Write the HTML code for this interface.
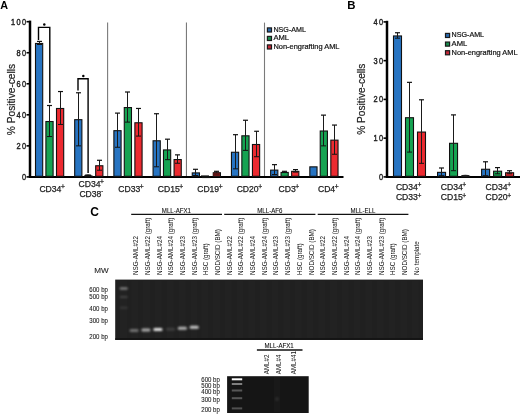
<!DOCTYPE html>
<html><head><meta charset="utf-8"><style>
html,body{margin:0;padding:0;background:#fff;}
body{width:520px;height:414px;overflow:hidden;font-family:"Liberation Sans", sans-serif;}
svg{display:block;will-change:transform;font-family:"Liberation Sans", sans-serif;}
</style></head><body>
<svg width="520" height="414" viewBox="0 0 520 414">
<text transform="translate(0.20,8.70)" font-size="10.8" font-weight="bold" fill="#000">A</text>
<text transform="translate(347.20,8.80)" font-size="11.4" font-weight="bold" fill="#000">B</text>
<text transform="translate(90.30,215.70)" font-size="12.0" font-weight="bold" fill="#000">C</text>
<line x1="107.6" y1="22.6" x2="107.6" y2="176" stroke="#7a7a7a" stroke-width="1.1"/>
<line x1="186.45" y1="22.6" x2="186.45" y2="176" stroke="#7a7a7a" stroke-width="1.1"/>
<line x1="264.5" y1="22.6" x2="264.5" y2="176" stroke="#7a7a7a" stroke-width="1.1"/>
<line x1="30" y1="20.6" x2="30" y2="178" stroke="#000" stroke-width="2.5"/>
<line x1="29" y1="177" x2="343.5" y2="177" stroke="#000" stroke-width="2"/>
<line x1="26.5" y1="176.90" x2="30" y2="176.90" stroke="#000" stroke-width="1.6"/>
<text transform="translate(27.29,179.80) scale(0.86,1)" text-anchor="end" font-size="8.6" letter-spacing="1.5" fill="#222" stroke="#222" stroke-width="0.4">0</text>
<line x1="26.5" y1="145.86" x2="30" y2="145.86" stroke="#000" stroke-width="1.6"/>
<text transform="translate(27.29,148.76) scale(0.86,1)" text-anchor="end" font-size="8.6" letter-spacing="1.5" fill="#222" stroke="#222" stroke-width="0.4">20</text>
<line x1="26.5" y1="114.82" x2="30" y2="114.82" stroke="#000" stroke-width="1.6"/>
<text transform="translate(27.29,117.72) scale(0.86,1)" text-anchor="end" font-size="8.6" letter-spacing="1.5" fill="#222" stroke="#222" stroke-width="0.4">40</text>
<line x1="26.5" y1="83.78" x2="30" y2="83.78" stroke="#000" stroke-width="1.6"/>
<text transform="translate(27.29,86.68) scale(0.86,1)" text-anchor="end" font-size="8.6" letter-spacing="1.5" fill="#222" stroke="#222" stroke-width="0.4">60</text>
<line x1="26.5" y1="52.74" x2="30" y2="52.74" stroke="#000" stroke-width="1.6"/>
<text transform="translate(27.29,55.64) scale(0.86,1)" text-anchor="end" font-size="8.6" letter-spacing="1.5" fill="#222" stroke="#222" stroke-width="0.4">80</text>
<line x1="26.5" y1="21.70" x2="30" y2="21.70" stroke="#000" stroke-width="1.6"/>
<text transform="translate(27.29,24.60) scale(0.86,1)" text-anchor="end" font-size="8.6" letter-spacing="1.5" fill="#222" stroke="#222" stroke-width="0.4">100</text>
<text transform="translate(14.60,99.50) rotate(-90)" text-anchor="middle" font-size="10.2" fill="#222" stroke="#222" stroke-width="0.2">% Positive-cells</text>
<rect x="35.50" y="43.46" width="7.20" height="132.84" fill="#2774c2" stroke="#111" stroke-width="1.1"/><line x1="39.50" y1="41.41" x2="39.50" y2="44.51" stroke="#1a1a1a" stroke-width="1"/><line x1="37.00" y1="41.41" x2="42.00" y2="41.41" stroke="#111" stroke-width="1.2"/><line x1="37.00" y1="44.51" x2="42.00" y2="44.51" stroke="#111" stroke-width="1"/>
<rect x="45.90" y="121.53" width="7.20" height="54.77" fill="#16a352" stroke="#111" stroke-width="1.1"/><line x1="49.50" y1="105.51" x2="49.50" y2="136.55" stroke="#1a1a1a" stroke-width="1"/><line x1="47.00" y1="105.51" x2="52.00" y2="105.51" stroke="#111" stroke-width="1.2"/><line x1="47.00" y1="136.55" x2="52.00" y2="136.55" stroke="#111" stroke-width="1"/>
<rect x="56.50" y="108.49" width="7.20" height="67.81" fill="#ec2a30" stroke="#111" stroke-width="1.1"/><line x1="60.50" y1="91.54" x2="60.50" y2="124.44" stroke="#1a1a1a" stroke-width="1"/><line x1="58.00" y1="91.54" x2="63.00" y2="91.54" stroke="#111" stroke-width="1.2"/><line x1="58.00" y1="124.44" x2="63.00" y2="124.44" stroke="#111" stroke-width="1"/>
<rect x="74.69" y="119.67" width="7.20" height="56.63" fill="#2774c2" stroke="#111" stroke-width="1.1"/><line x1="78.50" y1="92.78" x2="78.50" y2="145.86" stroke="#1a1a1a" stroke-width="1"/><line x1="76.00" y1="92.78" x2="81.00" y2="92.78" stroke="#111" stroke-width="1.2"/><line x1="76.00" y1="145.86" x2="81.00" y2="145.86" stroke="#111" stroke-width="1"/>
<rect x="85.09" y="176.16" width="7.20" height="0.60" fill="#16a352" stroke="#111" stroke-width="1.1"/>
<rect x="95.69" y="165.76" width="7.20" height="10.54" fill="#ec2a30" stroke="#111" stroke-width="1.1"/><line x1="99.50" y1="160.29" x2="99.50" y2="170.23" stroke="#1a1a1a" stroke-width="1"/><line x1="97.00" y1="160.29" x2="102.00" y2="160.29" stroke="#111" stroke-width="1.2"/><line x1="97.00" y1="170.23" x2="102.00" y2="170.23" stroke="#111" stroke-width="1"/>
<rect x="113.88" y="130.68" width="7.20" height="45.62" fill="#2774c2" stroke="#111" stroke-width="1.1"/><line x1="117.50" y1="113.11" x2="117.50" y2="147.26" stroke="#1a1a1a" stroke-width="1"/><line x1="115.00" y1="113.11" x2="120.00" y2="113.11" stroke="#111" stroke-width="1.2"/><line x1="115.00" y1="147.26" x2="120.00" y2="147.26" stroke="#111" stroke-width="1"/>
<rect x="124.28" y="107.56" width="7.20" height="68.74" fill="#16a352" stroke="#111" stroke-width="1.1"/><line x1="127.50" y1="92.01" x2="127.50" y2="122.11" stroke="#1a1a1a" stroke-width="1"/><line x1="125.00" y1="92.01" x2="130.00" y2="92.01" stroke="#111" stroke-width="1.2"/><line x1="125.00" y1="122.11" x2="130.00" y2="122.11" stroke="#111" stroke-width="1"/>
<rect x="134.88" y="122.77" width="7.20" height="53.53" fill="#ec2a30" stroke="#111" stroke-width="1.1"/><line x1="138.50" y1="108.46" x2="138.50" y2="136.08" stroke="#1a1a1a" stroke-width="1"/><line x1="136.00" y1="108.46" x2="141.00" y2="108.46" stroke="#111" stroke-width="1.2"/><line x1="136.00" y1="136.08" x2="141.00" y2="136.08" stroke="#111" stroke-width="1"/>
<rect x="153.07" y="140.77" width="7.20" height="35.53" fill="#2774c2" stroke="#111" stroke-width="1.1"/><line x1="156.50" y1="113.73" x2="156.50" y2="166.81" stroke="#1a1a1a" stroke-width="1"/><line x1="154.00" y1="113.73" x2="159.00" y2="113.73" stroke="#111" stroke-width="1.2"/><line x1="154.00" y1="166.81" x2="159.00" y2="166.81" stroke="#111" stroke-width="1"/>
<rect x="163.47" y="149.93" width="7.20" height="26.37" fill="#16a352" stroke="#111" stroke-width="1.1"/><line x1="167.50" y1="139.19" x2="167.50" y2="159.67" stroke="#1a1a1a" stroke-width="1"/><line x1="165.00" y1="139.19" x2="170.00" y2="139.19" stroke="#111" stroke-width="1.2"/><line x1="165.00" y1="159.67" x2="170.00" y2="159.67" stroke="#111" stroke-width="1"/>
<rect x="174.07" y="159.55" width="7.20" height="16.75" fill="#ec2a30" stroke="#111" stroke-width="1.1"/><line x1="177.50" y1="154.86" x2="177.50" y2="163.24" stroke="#1a1a1a" stroke-width="1"/><line x1="175.00" y1="154.86" x2="180.00" y2="154.86" stroke="#111" stroke-width="1.2"/><line x1="175.00" y1="163.24" x2="180.00" y2="163.24" stroke="#111" stroke-width="1"/>
<rect x="192.26" y="172.90" width="7.20" height="3.40" fill="#2774c2" stroke="#111" stroke-width="1.1"/><line x1="195.50" y1="169.30" x2="195.50" y2="175.50" stroke="#1a1a1a" stroke-width="1"/><line x1="193.00" y1="169.30" x2="198.00" y2="169.30" stroke="#111" stroke-width="1.2"/><line x1="193.00" y1="175.50" x2="198.00" y2="175.50" stroke="#111" stroke-width="1"/>
<rect x="202.66" y="176.93" width="7.20" height="0.60" fill="#16a352" stroke="#111" stroke-width="1.1"/>
<rect x="213.26" y="172.74" width="7.20" height="3.56" fill="#ec2a30" stroke="#111" stroke-width="1.1"/><line x1="216.50" y1="171.31" x2="216.50" y2="173.18" stroke="#1a1a1a" stroke-width="1"/><line x1="214.00" y1="171.31" x2="219.00" y2="171.31" stroke="#111" stroke-width="1.2"/><line x1="214.00" y1="173.18" x2="219.00" y2="173.18" stroke="#111" stroke-width="1"/>
<rect x="231.45" y="152.26" width="7.20" height="24.04" fill="#2774c2" stroke="#111" stroke-width="1.1"/><line x1="235.50" y1="134.69" x2="235.50" y2="168.83" stroke="#1a1a1a" stroke-width="1"/><line x1="233.00" y1="134.69" x2="238.00" y2="134.69" stroke="#111" stroke-width="1.2"/><line x1="233.00" y1="168.83" x2="238.00" y2="168.83" stroke="#111" stroke-width="1"/>
<rect x="241.85" y="135.81" width="7.20" height="40.49" fill="#16a352" stroke="#111" stroke-width="1.1"/><line x1="245.50" y1="120.25" x2="245.50" y2="150.36" stroke="#1a1a1a" stroke-width="1"/><line x1="243.00" y1="120.25" x2="248.00" y2="120.25" stroke="#111" stroke-width="1.2"/><line x1="243.00" y1="150.36" x2="248.00" y2="150.36" stroke="#111" stroke-width="1"/>
<rect x="252.45" y="144.50" width="7.20" height="31.80" fill="#ec2a30" stroke="#111" stroke-width="1.1"/><line x1="256.50" y1="131.27" x2="256.50" y2="156.72" stroke="#1a1a1a" stroke-width="1"/><line x1="254.00" y1="131.27" x2="259.00" y2="131.27" stroke="#111" stroke-width="1.2"/><line x1="254.00" y1="156.72" x2="259.00" y2="156.72" stroke="#111" stroke-width="1"/>
<rect x="270.64" y="170.11" width="7.20" height="6.19" fill="#2774c2" stroke="#111" stroke-width="1.1"/><line x1="274.50" y1="164.64" x2="274.50" y2="174.57" stroke="#1a1a1a" stroke-width="1"/><line x1="272.00" y1="164.64" x2="277.00" y2="164.64" stroke="#111" stroke-width="1.2"/><line x1="272.00" y1="174.57" x2="277.00" y2="174.57" stroke="#111" stroke-width="1"/>
<rect x="281.04" y="172.43" width="7.20" height="3.87" fill="#16a352" stroke="#111" stroke-width="1.1"/><line x1="284.50" y1="171.31" x2="284.50" y2="172.55" stroke="#1a1a1a" stroke-width="1"/><line x1="282.00" y1="171.31" x2="287.00" y2="171.31" stroke="#111" stroke-width="1.2"/><line x1="282.00" y1="172.55" x2="287.00" y2="172.55" stroke="#111" stroke-width="1"/>
<rect x="291.64" y="171.35" width="7.20" height="4.95" fill="#ec2a30" stroke="#111" stroke-width="1.1"/><line x1="295.50" y1="169.61" x2="295.50" y2="172.09" stroke="#1a1a1a" stroke-width="1"/><line x1="293.00" y1="169.61" x2="298.00" y2="169.61" stroke="#111" stroke-width="1.2"/><line x1="293.00" y1="172.09" x2="298.00" y2="172.09" stroke="#111" stroke-width="1"/>
<rect x="309.83" y="166.85" width="7.20" height="9.45" fill="#2774c2" stroke="#111" stroke-width="1.1"/>
<rect x="320.23" y="131.00" width="7.20" height="45.30" fill="#16a352" stroke="#111" stroke-width="1.1"/><line x1="323.50" y1="115.13" x2="323.50" y2="145.86" stroke="#1a1a1a" stroke-width="1"/><line x1="321.00" y1="115.13" x2="326.00" y2="115.13" stroke="#111" stroke-width="1.2"/><line x1="321.00" y1="145.86" x2="326.00" y2="145.86" stroke="#111" stroke-width="1"/>
<rect x="330.83" y="140.15" width="7.20" height="36.15" fill="#ec2a30" stroke="#111" stroke-width="1.1"/><line x1="334.50" y1="125.06" x2="334.50" y2="154.24" stroke="#1a1a1a" stroke-width="1"/><line x1="332.00" y1="125.06" x2="337.00" y2="125.06" stroke="#111" stroke-width="1.2"/><line x1="332.00" y1="154.24" x2="337.00" y2="154.24" stroke="#111" stroke-width="1"/>
<ellipse cx="88" cy="175.6" rx="3.6" ry="1.3" fill="#111"/>
<rect x="213.2" y="172.8" width="6.6" height="3" fill="#5a1515"/>
<line x1="201" y1="175.6" x2="209" y2="175.6" stroke="#333" stroke-width="0.8"/>
<path d="M38.5,40 V27.4 H49.8 V103" fill="none" stroke="#000" stroke-width="1.4"/>
<circle cx="44.3" cy="24.4" r="1.25" fill="#000"/>
<path d="M78.0,90.5 V78.8 H88.1 V173" fill="none" stroke="#000" stroke-width="1.4"/>
<circle cx="83.3" cy="76.1" r="1.25" fill="#000"/>
<rect x="267.40" y="27.90" width="4.1" height="4.1" fill="#2a68aa" stroke="#1a1a1a" stroke-width="1.2"/><text transform="translate(273.45,31.90) scale(0.965,1)" font-size="7.4" fill="#111" stroke="#111" stroke-width="0.2">NSG-AML</text><rect x="267.40" y="36.40" width="4.1" height="4.1" fill="#1a8a4c" stroke="#1a1a1a" stroke-width="1.2"/><text transform="translate(273.45,40.40) scale(1.03,1)" font-size="7.4" fill="#111" stroke="#111" stroke-width="0.2">AML</text><rect x="267.40" y="44.90" width="4.1" height="4.1" fill="#c42838" stroke="#1a1a1a" stroke-width="1.2"/><text transform="translate(273.45,48.90) scale(1.005,1)" font-size="7.4" fill="#111" stroke="#111" stroke-width="0.2">Non-engrafting AML</text>
<rect x="445.50" y="33.40" width="4.1" height="4.1" fill="#2a68aa" stroke="#1a1a1a" stroke-width="1.2"/><text transform="translate(451.55,37.40) scale(0.965,1)" font-size="7.4" fill="#111" stroke="#111" stroke-width="0.2">NSG-AML</text><rect x="445.50" y="42.05" width="4.1" height="4.1" fill="#1a8a4c" stroke="#1a1a1a" stroke-width="1.2"/><text transform="translate(451.55,46.05) scale(1.03,1)" font-size="7.4" fill="#111" stroke="#111" stroke-width="0.2">AML</text><rect x="445.50" y="50.70" width="4.1" height="4.1" fill="#c42838" stroke="#1a1a1a" stroke-width="1.2"/><text transform="translate(451.55,54.70) scale(1.005,1)" font-size="7.4" fill="#111" stroke="#111" stroke-width="0.2">Non-engrafting AML</text>
<text transform="translate(52.10,191.90)" text-anchor="middle" font-size="8.6" fill="#222" stroke="#222" stroke-width="0.25">CD34<tspan font-size="6.6" dx="-0.4" dy="-2.6">+</tspan></text>
<text transform="translate(131.00,191.90)" text-anchor="middle" font-size="8.6" fill="#222" stroke="#222" stroke-width="0.25">CD33<tspan font-size="6.6" dx="-0.4" dy="-2.6">+</tspan></text>
<text transform="translate(170.45,191.90)" text-anchor="middle" font-size="8.6" fill="#222" stroke="#222" stroke-width="0.25">CD15<tspan font-size="6.6" dx="-0.4" dy="-2.6">+</tspan></text>
<text transform="translate(209.90,191.90)" text-anchor="middle" font-size="8.6" fill="#222" stroke="#222" stroke-width="0.25">CD19<tspan font-size="6.6" dx="-0.4" dy="-2.6">+</tspan></text>
<text transform="translate(249.35,191.90)" text-anchor="middle" font-size="8.6" fill="#222" stroke="#222" stroke-width="0.25">CD20<tspan font-size="6.6" dx="-0.4" dy="-2.6">+</tspan></text>
<text transform="translate(288.80,191.90)" text-anchor="middle" font-size="8.6" fill="#222" stroke="#222" stroke-width="0.25">CD3<tspan font-size="6.6" dx="-0.4" dy="-2.6">+</tspan></text>
<text transform="translate(328.25,191.90)" text-anchor="middle" font-size="8.6" fill="#222" stroke="#222" stroke-width="0.25">CD4<tspan font-size="6.6" dx="-0.4" dy="-2.6">+</tspan></text>
<text transform="translate(91.19,186.60)" text-anchor="middle" font-size="8.6" fill="#222" stroke="#222" stroke-width="0.25">CD34<tspan font-size="6.6" dx="-0.4" dy="-2.6">+</tspan></text>
<text transform="translate(91.19,197.40)" text-anchor="middle" font-size="8.6" fill="#222" stroke="#222" stroke-width="0.25">CD38<tspan font-size="5.5" dx="-0.2" dy="-4.2">-</tspan></text>
<line x1="387" y1="20.8" x2="387" y2="178" stroke="#000" stroke-width="2.5"/>
<line x1="386" y1="177" x2="520" y2="177" stroke="#000" stroke-width="2"/>
<line x1="383.5" y1="176.90" x2="387" y2="176.90" stroke="#000" stroke-width="1.6"/>
<text transform="translate(384.29,179.80) scale(0.86,1)" text-anchor="end" font-size="8.6" letter-spacing="1.5" fill="#222" stroke="#222" stroke-width="0.4">0</text>
<line x1="383.5" y1="138.15" x2="387" y2="138.15" stroke="#000" stroke-width="1.6"/>
<text transform="translate(384.29,141.05) scale(0.86,1)" text-anchor="end" font-size="8.6" letter-spacing="1.5" fill="#222" stroke="#222" stroke-width="0.4">10</text>
<line x1="383.5" y1="99.40" x2="387" y2="99.40" stroke="#000" stroke-width="1.6"/>
<text transform="translate(384.29,102.30) scale(0.86,1)" text-anchor="end" font-size="8.6" letter-spacing="1.5" fill="#222" stroke="#222" stroke-width="0.4">20</text>
<line x1="383.5" y1="60.65" x2="387" y2="60.65" stroke="#000" stroke-width="1.6"/>
<text transform="translate(384.29,63.55) scale(0.86,1)" text-anchor="end" font-size="8.6" letter-spacing="1.5" fill="#222" stroke="#222" stroke-width="0.4">30</text>
<line x1="383.5" y1="21.90" x2="387" y2="21.90" stroke="#000" stroke-width="1.6"/>
<text transform="translate(384.29,24.80) scale(0.86,1)" text-anchor="end" font-size="8.6" letter-spacing="1.5" fill="#222" stroke="#222" stroke-width="0.4">40</text>
<text transform="translate(365.00,99.20) rotate(-90)" text-anchor="middle" font-size="10.2" fill="#222" stroke="#222" stroke-width="0.2">% Positive-cells</text>
<rect x="393.50" y="35.96" width="8.00" height="140.34" fill="#2774c2" stroke="#111" stroke-width="1.1"/><line x1="397.50" y1="32.75" x2="397.50" y2="38.18" stroke="#1a1a1a" stroke-width="1"/><line x1="395.00" y1="32.75" x2="400.00" y2="32.75" stroke="#111" stroke-width="1.2"/><line x1="395.00" y1="38.18" x2="400.00" y2="38.18" stroke="#111" stroke-width="1"/>
<rect x="405.50" y="117.72" width="8.00" height="58.58" fill="#16a352" stroke="#111" stroke-width="1.1"/><line x1="409.50" y1="82.35" x2="409.50" y2="152.10" stroke="#1a1a1a" stroke-width="1"/><line x1="407.00" y1="82.35" x2="412.00" y2="82.35" stroke="#111" stroke-width="1.2"/><line x1="407.00" y1="152.10" x2="412.00" y2="152.10" stroke="#111" stroke-width="1"/>
<rect x="417.50" y="132.06" width="8.00" height="44.24" fill="#ec2a30" stroke="#111" stroke-width="1.1"/><line x1="421.50" y1="99.79" x2="421.50" y2="163.34" stroke="#1a1a1a" stroke-width="1"/><line x1="419.00" y1="99.79" x2="424.00" y2="99.79" stroke="#111" stroke-width="1.2"/><line x1="419.00" y1="163.34" x2="424.00" y2="163.34" stroke="#111" stroke-width="1"/>
<rect x="437.55" y="172.36" width="8.00" height="3.94" fill="#2774c2" stroke="#111" stroke-width="1.1"/><line x1="441.50" y1="167.99" x2="441.50" y2="175.74" stroke="#1a1a1a" stroke-width="1"/><line x1="439.00" y1="167.99" x2="444.00" y2="167.99" stroke="#111" stroke-width="1.2"/><line x1="439.00" y1="175.74" x2="444.00" y2="175.74" stroke="#111" stroke-width="1"/>
<rect x="449.55" y="143.30" width="8.00" height="33.00" fill="#16a352" stroke="#111" stroke-width="1.1"/><line x1="453.50" y1="114.90" x2="453.50" y2="170.70" stroke="#1a1a1a" stroke-width="1"/><line x1="451.00" y1="114.90" x2="456.00" y2="114.90" stroke="#111" stroke-width="1.2"/><line x1="451.00" y1="170.70" x2="456.00" y2="170.70" stroke="#111" stroke-width="1"/>
<rect x="461.55" y="176.24" width="8.00" height="0.60" fill="#ec2a30" stroke="#111" stroke-width="1.1"/>
<rect x="481.60" y="169.26" width="8.00" height="7.04" fill="#2774c2" stroke="#111" stroke-width="1.1"/><line x1="485.50" y1="161.79" x2="485.50" y2="175.74" stroke="#1a1a1a" stroke-width="1"/><line x1="483.00" y1="161.79" x2="488.00" y2="161.79" stroke="#111" stroke-width="1.2"/><line x1="483.00" y1="175.74" x2="488.00" y2="175.74" stroke="#111" stroke-width="1"/>
<rect x="493.60" y="171.20" width="8.00" height="5.10" fill="#16a352" stroke="#111" stroke-width="1.1"/><line x1="497.50" y1="167.60" x2="497.50" y2="173.80" stroke="#1a1a1a" stroke-width="1"/><line x1="495.00" y1="167.60" x2="500.00" y2="167.60" stroke="#111" stroke-width="1.2"/><line x1="495.00" y1="173.80" x2="500.00" y2="173.80" stroke="#111" stroke-width="1"/>
<rect x="505.60" y="172.75" width="8.00" height="3.55" fill="#ec2a30" stroke="#111" stroke-width="1.1"/><line x1="509.50" y1="170.70" x2="509.50" y2="173.80" stroke="#1a1a1a" stroke-width="1"/><line x1="507.00" y1="170.70" x2="512.00" y2="170.70" stroke="#111" stroke-width="1.2"/><line x1="507.00" y1="173.80" x2="512.00" y2="173.80" stroke="#111" stroke-width="1"/>
<ellipse cx="465.3" cy="175.8" rx="4" ry="1" fill="#222"/>
<text transform="translate(408.60,189.80)" text-anchor="middle" font-size="8.6" fill="#222" stroke="#222" stroke-width="0.25">CD34<tspan font-size="6.6" dx="-0.4" dy="-2.6">+</tspan></text>
<text transform="translate(408.60,200.20)" text-anchor="middle" font-size="8.6" fill="#222" stroke="#222" stroke-width="0.25">CD33<tspan font-size="6.6" dx="-0.4" dy="-2.6">+</tspan></text>
<text transform="translate(453.45,189.80)" text-anchor="middle" font-size="8.6" fill="#222" stroke="#222" stroke-width="0.25">CD34<tspan font-size="6.6" dx="-0.4" dy="-2.6">+</tspan></text>
<text transform="translate(453.45,200.20)" text-anchor="middle" font-size="8.6" fill="#222" stroke="#222" stroke-width="0.25">CD15<tspan font-size="6.6" dx="-0.4" dy="-2.6">+</tspan></text>
<text transform="translate(498.30,189.80)" text-anchor="middle" font-size="8.6" fill="#222" stroke="#222" stroke-width="0.25">CD34<tspan font-size="6.6" dx="-0.4" dy="-2.6">+</tspan></text>
<text transform="translate(498.30,200.20)" text-anchor="middle" font-size="8.6" fill="#222" stroke="#222" stroke-width="0.25">CD20<tspan font-size="6.6" dx="-0.4" dy="-2.6">+</tspan></text>
<defs><filter id="bl" x="-50%" y="-100%" width="200%" height="300%"><feGaussianBlur stdDeviation="1.1"/></filter><filter id="bl2" x="-50%" y="-100%" width="200%" height="300%"><feGaussianBlur stdDeviation="0.7"/></filter><filter id="bl3" x="-50%" y="-100%" width="200%" height="300%"><feGaussianBlur stdDeviation="0.9"/></filter></defs>
<line x1="131.2" y1="214.45" x2="222.0" y2="214.45" stroke="#111" stroke-width="1.2"/>
<text transform="translate(176.40,213.10) scale(0.9,1)" text-anchor="middle" font-size="6.8" fill="#111" stroke="#111" stroke-width="0.1">MLL-AFX1</text>
<line x1="224.2" y1="214.45" x2="315.4" y2="214.45" stroke="#111" stroke-width="1.2"/>
<text transform="translate(269.80,213.10) scale(0.9,1)" text-anchor="middle" font-size="6.8" fill="#111" stroke="#111" stroke-width="0.1">MLL-AF6</text>
<line x1="317.7" y1="214.45" x2="408.4" y2="214.45" stroke="#111" stroke-width="1.2"/>
<text transform="translate(363.00,213.10) scale(0.9,1)" text-anchor="middle" font-size="6.8" fill="#111" stroke="#111" stroke-width="0.1">MLL-ELL</text>
<text transform="translate(138.30,275.00) rotate(-90) scale(0.965,1)" font-size="6.5" fill="#111">NSG-AML#22</text>
<text transform="translate(149.98,275.00) rotate(-90) scale(0.965,1)" font-size="6.5" fill="#111">NSG-AML#22 (graft)</text>
<text transform="translate(161.66,275.00) rotate(-90) scale(0.965,1)" font-size="6.5" fill="#111">NSG-AML#24</text>
<text transform="translate(173.34,275.00) rotate(-90) scale(0.965,1)" font-size="6.5" fill="#111">NSG-AML#24 (graft)</text>
<text transform="translate(185.02,275.00) rotate(-90) scale(0.965,1)" font-size="6.5" fill="#111">NSG-AML#23</text>
<text transform="translate(196.70,275.00) rotate(-90) scale(0.965,1)" font-size="6.5" fill="#111">NSG-AML#23 (graft)</text>
<text transform="translate(208.38,275.00) rotate(-90) scale(0.965,1)" font-size="6.5" fill="#111">HSC (graft)</text>
<text transform="translate(220.06,275.00) rotate(-90) scale(0.965,1)" font-size="6.5" fill="#111">NOD/SCID (BM)</text>
<text transform="translate(231.74,275.00) rotate(-90) scale(0.965,1)" font-size="6.5" fill="#111">NSG-AML#22</text>
<text transform="translate(243.42,275.00) rotate(-90) scale(0.965,1)" font-size="6.5" fill="#111">NSG-AML#22 (graft)</text>
<text transform="translate(255.10,275.00) rotate(-90) scale(0.965,1)" font-size="6.5" fill="#111">NSG-AML#24</text>
<text transform="translate(266.78,275.00) rotate(-90) scale(0.965,1)" font-size="6.5" fill="#111">NSG-AML#24 (graft)</text>
<text transform="translate(278.46,275.00) rotate(-90) scale(0.965,1)" font-size="6.5" fill="#111">NSG-AML#23</text>
<text transform="translate(290.14,275.00) rotate(-90) scale(0.965,1)" font-size="6.5" fill="#111">NSG-AML#23 (graft)</text>
<text transform="translate(301.82,275.00) rotate(-90) scale(0.965,1)" font-size="6.5" fill="#111">HSC (graft)</text>
<text transform="translate(313.50,275.00) rotate(-90) scale(0.965,1)" font-size="6.5" fill="#111">NOD/SCID (BM)</text>
<text transform="translate(325.18,275.00) rotate(-90) scale(0.965,1)" font-size="6.5" fill="#111">NSG-AML#22</text>
<text transform="translate(336.86,275.00) rotate(-90) scale(0.965,1)" font-size="6.5" fill="#111">NSG-AML#22 (graft)</text>
<text transform="translate(348.54,275.00) rotate(-90) scale(0.965,1)" font-size="6.5" fill="#111">NSG-AML#24</text>
<text transform="translate(360.22,275.00) rotate(-90) scale(0.965,1)" font-size="6.5" fill="#111">NSG-AML#24 (graft)</text>
<text transform="translate(371.90,275.00) rotate(-90) scale(0.965,1)" font-size="6.5" fill="#111">NSG-AML#23</text>
<text transform="translate(383.58,275.00) rotate(-90) scale(0.965,1)" font-size="6.5" fill="#111">NSG-AML#23 (graft)</text>
<text transform="translate(395.26,275.00) rotate(-90) scale(0.965,1)" font-size="6.5" fill="#111">HSC (graft)</text>
<text transform="translate(406.94,275.00) rotate(-90) scale(0.965,1)" font-size="6.5" fill="#111">NOD/SCID (BM)</text>
<text transform="translate(418.62,275.00) rotate(-90) scale(0.965,1)" font-size="6.5" fill="#111">No template</text>
<text transform="translate(94.30,273.20)" font-size="8.1" fill="#222" stroke="#222" stroke-width="0.1">MW</text>
<text transform="translate(107.90,291.90) scale(0.92,1)" text-anchor="end" font-size="6.6" fill="#222" stroke="#222" stroke-width="0.1">600 bp</text>
<text transform="translate(107.90,299.10) scale(0.92,1)" text-anchor="end" font-size="6.6" fill="#222" stroke="#222" stroke-width="0.1">500 bp</text>
<text transform="translate(107.90,310.50) scale(0.92,1)" text-anchor="end" font-size="6.6" fill="#222" stroke="#222" stroke-width="0.1">400 bp</text>
<text transform="translate(107.90,322.60) scale(0.92,1)" text-anchor="end" font-size="6.6" fill="#222" stroke="#222" stroke-width="0.1">300 bp</text>
<text transform="translate(107.90,339.10) scale(0.92,1)" text-anchor="end" font-size="6.6" fill="#222" stroke="#222" stroke-width="0.1">200 bp</text>
<rect x="115.2" y="279.6" width="307.8" height="60.2" fill="#202020"/>
<rect x="120.0" y="281" width="7" height="57" fill="#fff" opacity="0.012"/>
<rect x="131.1" y="281" width="7" height="57" fill="#fff" opacity="0.012"/>
<rect x="143.0" y="281" width="7" height="57" fill="#fff" opacity="0.012"/>
<rect x="154.9" y="281" width="7" height="57" fill="#fff" opacity="0.012"/>
<rect x="166.8" y="281" width="7" height="57" fill="#fff" opacity="0.012"/>
<rect x="178.7" y="281" width="7" height="57" fill="#fff" opacity="0.012"/>
<rect x="190.6" y="281" width="7" height="57" fill="#fff" opacity="0.012"/>
<rect x="201.3" y="281" width="7" height="57" fill="#fff" opacity="0.012"/>
<rect x="213.0" y="281" width="7" height="57" fill="#fff" opacity="0.012"/>
<rect x="224.7" y="281" width="7" height="57" fill="#fff" opacity="0.012"/>
<rect x="236.4" y="281" width="7" height="57" fill="#fff" opacity="0.012"/>
<rect x="248.1" y="281" width="7" height="57" fill="#fff" opacity="0.012"/>
<rect x="259.8" y="281" width="7" height="57" fill="#fff" opacity="0.012"/>
<rect x="271.5" y="281" width="7" height="57" fill="#fff" opacity="0.012"/>
<rect x="283.2" y="281" width="7" height="57" fill="#fff" opacity="0.012"/>
<rect x="294.9" y="281" width="7" height="57" fill="#fff" opacity="0.012"/>
<rect x="306.6" y="281" width="7" height="57" fill="#fff" opacity="0.012"/>
<rect x="318.3" y="281" width="7" height="57" fill="#fff" opacity="0.012"/>
<rect x="330.0" y="281" width="7" height="57" fill="#fff" opacity="0.012"/>
<rect x="341.7" y="281" width="7" height="57" fill="#fff" opacity="0.012"/>
<rect x="353.4" y="281" width="7" height="57" fill="#fff" opacity="0.012"/>
<rect x="365.1" y="281" width="7" height="57" fill="#fff" opacity="0.012"/>
<rect x="376.8" y="281" width="7" height="57" fill="#fff" opacity="0.012"/>
<rect x="388.5" y="281" width="7" height="57" fill="#fff" opacity="0.012"/>
<rect x="400.2" y="281" width="7" height="57" fill="#fff" opacity="0.012"/>
<rect x="411.9" y="281" width="7" height="57" fill="#fff" opacity="0.012"/>
<rect x="115.2" y="338.3" width="307.8" height="1.6" fill="#111"/>
<rect x="119.6" y="287.6" width="8.2" height="2" rx="1" fill="#fff" opacity="0.5" filter="url(#bl3)"/>
<rect x="119.6" y="296.1" width="8.2" height="2" rx="1" fill="#fff" opacity="0.15" filter="url(#bl3)"/>
<rect x="119.6" y="306.7" width="8.2" height="2" rx="1" fill="#fff" opacity="0.1" filter="url(#bl3)"/>
<rect x="129.5" y="329.1" width="9.2" height="3" rx="1.5" fill="#fff" opacity="0.36" filter="url(#bl)"/>
<rect x="141.3" y="328.5" width="9.2" height="3" rx="1.5" fill="#fff" opacity="0.62" filter="url(#bl)"/>
<rect x="153.3" y="328.1" width="9.2" height="3" rx="1.5" fill="#fff" opacity="0.88" filter="url(#bl)"/>
<rect x="166.0" y="327.8" width="9.2" height="3" rx="1.5" fill="#fff" opacity="0.12" filter="url(#bl)"/>
<rect x="177.8" y="326.7" width="9.2" height="3" rx="1.5" fill="#fff" opacity="0.66" filter="url(#bl)"/>
<rect x="189.6" y="325.7" width="9.2" height="3" rx="1.5" fill="#fff" opacity="0.74" filter="url(#bl)"/>
<text transform="translate(279.10,347.60) scale(0.9,1)" text-anchor="middle" font-size="6.8" fill="#111" stroke="#111" stroke-width="0.1">MLL-AFX1</text>
<line x1="256.9" y1="349.9" x2="302.5" y2="349.9" stroke="#111" stroke-width="1.5"/>
<text transform="translate(268.50,374.30) rotate(-90) scale(0.965,1)" font-size="6.5" fill="#111">AML#2</text>
<text transform="translate(280.90,374.30) rotate(-90) scale(0.965,1)" font-size="6.5" fill="#111">AML#4</text>
<text transform="translate(296.00,374.30) rotate(-90) scale(0.965,1)" font-size="6.5" fill="#111">AML#41</text>
<text transform="translate(219.80,382.00) scale(0.92,1)" text-anchor="end" font-size="6.6" fill="#222" stroke="#222" stroke-width="0.1">600 bp</text>
<text transform="translate(219.80,387.80) scale(0.92,1)" text-anchor="end" font-size="6.6" fill="#222" stroke="#222" stroke-width="0.1">500 bp</text>
<text transform="translate(219.80,393.60) scale(0.92,1)" text-anchor="end" font-size="6.6" fill="#222" stroke="#222" stroke-width="0.1">400 bp</text>
<text transform="translate(219.80,402.00) scale(0.92,1)" text-anchor="end" font-size="6.6" fill="#222" stroke="#222" stroke-width="0.1">300 bp</text>
<text transform="translate(219.80,412.40) scale(0.92,1)" text-anchor="end" font-size="6.6" fill="#222" stroke="#222" stroke-width="0.1">200 bp</text>
<rect x="227.1" y="376.2" width="81.6" height="36.8" fill="#151515"/>
<rect x="274" y="377" width="6" height="35" fill="#fff" opacity="0.02"/>
<rect x="231.8" y="378.3" width="10.4" height="2" fill="#fff" opacity="1.0" filter="url(#bl2)"/>
<rect x="231.8" y="383.0" width="10.4" height="2" fill="#fff" opacity="0.45" filter="url(#bl2)"/>
<rect x="231.8" y="389.5" width="10.4" height="2" fill="#fff" opacity="0.28" filter="url(#bl2)"/>
<rect x="231.8" y="397.2" width="10.4" height="2" fill="#fff" opacity="0.28" filter="url(#bl2)"/>
<rect x="231.8" y="407.4" width="10.4" height="2" fill="#fff" opacity="0.25" filter="url(#bl2)"/>
<ellipse cx="277" cy="399" rx="2" ry="2" fill="#fff" opacity="0.08" filter="url(#bl)"/>
</svg>
</body></html>
